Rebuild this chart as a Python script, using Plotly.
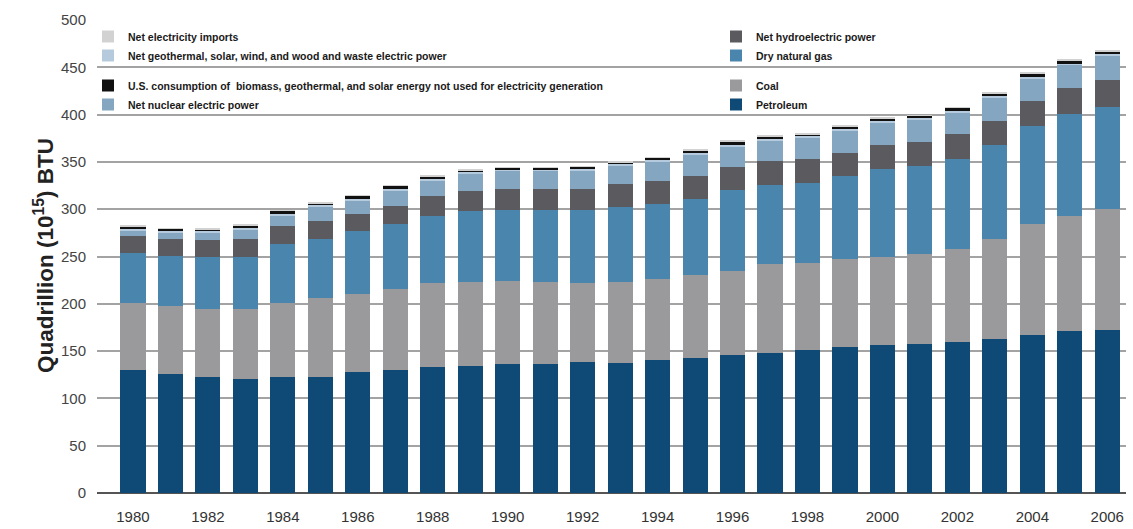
import plotly.graph_objects as go

years = list(range(1980, 2007))
tick_vals = list(range(1980, 2007, 2))
tick_text = [str(y) for y in tick_vals]

petroleum = [130.5, 126, 122.5, 120.5, 123, 123, 127.5, 129.5, 133, 134.5, 136, 136.5, 138, 137.5,
             140.5, 142.5, 145.5, 148, 151.5, 154, 156.5, 158, 159.5, 162.5, 167, 171, 172]
coal = [70.5, 71.5, 72.5, 74.5, 78, 83.5, 83, 86.5, 89, 88.5, 88, 86.5, 84.5, 86,
        86, 87.5, 89.5, 94.5, 92, 93, 93.5, 95, 98, 106.5, 117, 122, 128]
natural_gas = [53, 53.5, 54, 55, 62, 61.5, 66.5, 68, 70.5, 75, 75.5, 76.5, 77, 79,
               79.5, 81, 85, 83.5, 84.5, 88, 92, 92.5, 96, 99, 104, 108, 108]
hydro = [17.5, 18, 18, 19, 19, 19.5, 17.5, 19, 21.5, 21, 22, 22, 22, 24.5,
         23.5, 24.5, 24.5, 24.5, 25.5, 24.5, 25.5, 25.5, 25.5, 25.5, 26, 27, 29]
nuclear = [6.5, 6.5, 8.5, 10, 11, 15, 15, 16.5, 16.5, 18.5, 19, 19, 19.5, 19.5,
           21, 22.5, 22, 22.5, 22, 24, 24, 24, 23.5, 24.5, 24, 24.5, 25.5]
geothermal = [1.5, 1.5, 1.5, 1.5, 1.5, 1.5, 1.5, 1.5, 1.5, 1.5, 1.5, 1.5, 1.5, 1.5,
              1.5, 1.5, 1.5, 1.5, 1.5, 1.5, 1.5, 1.5, 1.5, 1.5, 1.5, 1.5, 1.5]
biomass = [2.3, 2.3, 1.8, 2.3, 3.7, 2.3, 3.2, 3.7, 2.8, 2.3, 1.8, 1.8, 2.3, 1.8,
           2.3, 2.8, 3.7, 2.8, 2.3, 2.3, 2.8, 2.3, 3.2, 2.8, 4.2, 3.7, 3.2]
imports = [0.7, 0.7, 0.7, 0.7, 0.8, 0.7, 0.8, 0.8, 0.7, 0.7, 0.7, 0.7, 0.7, 0.7,
           0.7, 0.7, 0.8, 0.7, 0.7, 0.7, 0.7, 0.7, 0.8, 0.7, 0.8, 0.8, 0.8]

series = [
    ("Petroleum", petroleum, "#0f4a77", "legend4"),
    ("Coal", coal, "#9a9a9c", "legend4"),
    ("Dry natural gas", natural_gas, "#4a85ad", "legend3"),
    ("Net hydroelectric power", hydro, "#5b5a5e", "legend3"),
    ("Net nuclear electric power", nuclear, "#84a6c0", "legend2"),
    ("Net geothermal, solar, wind, and wood and waste electric power", geothermal, "#b5cbdd", "legend"),
    ("U.S. consumption of  biomass, geothermal, and solar energy not used for electricity generation",
     biomass, "#111111", "legend2"),
    ("Net electricity imports", imports, "#d2d2d2", "legend"),
]

fig = go.Figure()
for name, vals, color, leg in series:
    fig.add_trace(go.Bar(x=years, y=vals, name=name, marker=dict(color=color, line=dict(width=0)),
                         legend=leg))

W, H = 1133, 529
ML, MR, MT, MB = 97, 7, 20, 36
PW, PH = W - ML - MR, H - MT - MB
legfont = dict(family="Liberation Sans, Arial, sans-serif", size=10.5, color="#1a1a1a", weight="bold")


def leg(xpx, ypx):
    return dict(x=xpx / W, y=1 - ypx / H, xref="container", yref="container", xanchor="left",
                yanchor="top", bgcolor="rgba(0,0,0,0)", font=legfont, traceorder="reversed",
                itemwidth=30, tracegroupgap=0)


fig.update_layout(
    width=W, height=H,
    barmode="stack", bargap=0.33,
    plot_bgcolor="white", paper_bgcolor="white",
    margin=dict(l=ML, r=MR, t=MT, b=MB, autoexpand=False),
    font=dict(family="Liberation Sans, Arial, sans-serif", color="#333333"),
    legend=leg(88, 22),
    legend2=leg(88, 71),
    legend3=leg(716, 22),
    legend4=leg(716, 71),
    xaxis=dict(range=[1979.04, 2006.5], tickvals=tick_vals, ticktext=tick_text, showgrid=False,
               zeroline=False, showline=False, ticks="", tickfont=dict(size=15, color="#333333"),
               ticklabelstandoff=13),
    yaxis=dict(range=[0, 500], tickvals=list(range(0, 501, 50)), showgrid=True, gridcolor="#a3a3a3",
               gridwidth=1.5, zeroline=True, zerolinecolor="#555555", zerolinewidth=1.5,
               ticks="", tickfont=dict(size=15, color="#444444"), ticklabelstandoff=10),
    annotations=[dict(text="Quadrillion (10<sup>15</sup>) BTU", textangle=-90, showarrow=False,
                      xref="paper", yref="paper", x=(44 - ML) / PW, y=1 - (256 - MT) / PH,
                      xanchor="center", yanchor="middle",
                      font=dict(size=22.5, color="#222222", weight="bold",
                                family="Liberation Sans, Arial, sans-serif"))],
)

fig.write_html("out.html")
